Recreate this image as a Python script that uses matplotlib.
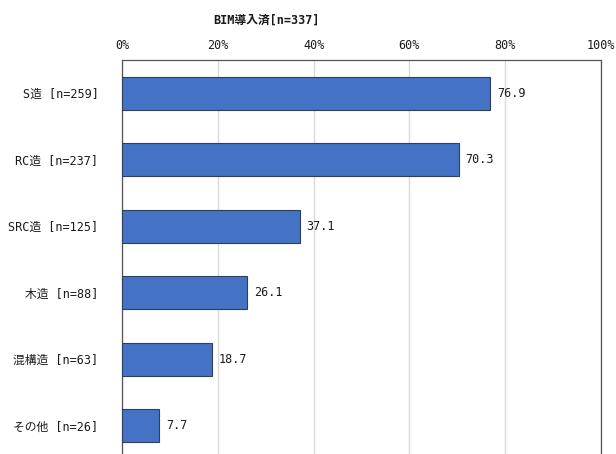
import matplotlib
matplotlib.use("Agg")
import matplotlib.pyplot as plt
from matplotlib.ticker import FuncFormatter

plt.rcParams['font.family'] = ['DejaVu Sans Mono', 'Noto Sans CJK JP']

title = "BIM導入済[n=337]"
categories = ["S造 [n=259]", "RC造 [n=237]", "SRC造 [n=125]", "木造 [n=88]", "混構造 [n=63]", "その他 [n=26]"]
values = [76.9, 70.3, 37.1, 26.1, 18.7, 7.7]
xticks = [0, 20, 40, 60, 80, 100]

fig = plt.figure(figsize=(6.16, 4.54), dpi=100)
ax = fig.add_axes([122/616, 1 - 459/454, (601 - 122)/616, (459 - 60)/454])

y = list(range(len(categories)))
ax.barh(y, values, height=0.5, color="#4472C4", edgecolor="#2F3E5C", linewidth=0.8, zorder=3)
for yi, v in zip(y, values):
    ax.annotate(f"{v:.1f}", xy=(v, yi), xytext=(5, 0), textcoords="offset points",
                va="center", ha="left", fontsize=8.5, color="#1a1a1a")

ax.set_xlim(0, 100)
ax.set_ylim(len(categories) - 0.5, -0.5)
ax.set_xticks(xticks)
ax.xaxis.set_major_formatter(FuncFormatter(lambda v, p: f"{v:.0f}%"))
ax.xaxis.tick_top()
ax.set_yticks(y)
ax.set_yticklabels(categories)
ax.tick_params(axis="both", length=0, labelsize=8.5, colors="#1a1a1a")
ax.tick_params(axis="x", pad=6)
ax.tick_params(axis="y", pad=17)
ax.grid(axis="x", color="#D9D9D9", linewidth=1, zorder=0)
for s in ax.spines.values():
    s.set_color("#555555")
    s.set_linewidth(0.9)

fig.text(267/616, 1 - 20/454, title, ha="center", va="center", fontsize=8.5, fontweight="bold", color="#1a1a1a")

fig.savefig("out.png", dpi=100)
